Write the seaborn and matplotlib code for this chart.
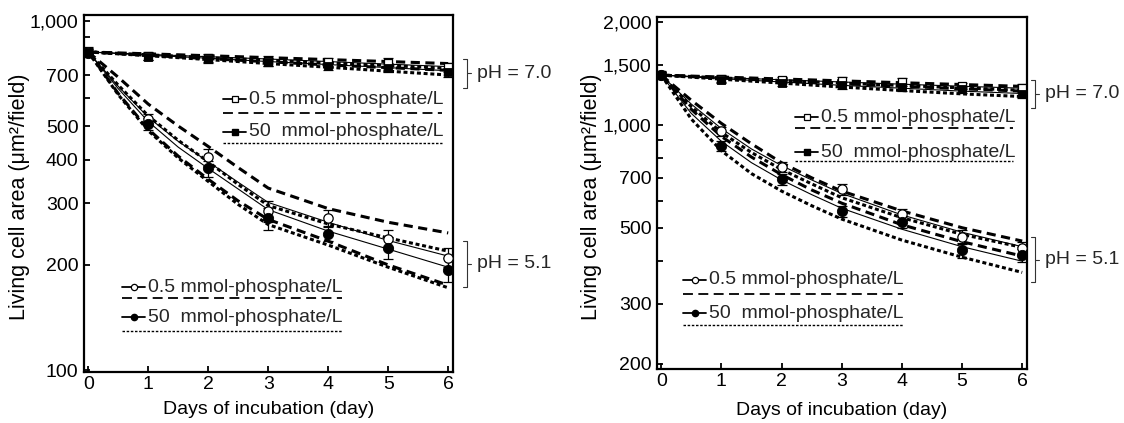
import numpy as np
import pandas as pd
import matplotlib
matplotlib.use("Agg")
import matplotlib.pyplot as plt
from matplotlib.lines import Line2D
from matplotlib.ticker import FixedLocator, FixedFormatter, NullLocator
import seaborn as sns

sns.set_theme(style="white")
plt.rcParams['font.family'] = ['Liberation Sans', 'DejaVu Sans']

# ---------------- data ----------------
days = [0, 1, 2, 3, 4, 5, 6]
fit_days = [0, 0.5, 1, 1.5, 2, 2.5, 3, 4, 5, 6]

# Left panel, pH 7.0 (squares)
L7_open = [815, 795, 782, 770, 762, 757, 738]
L7_open_err = [25, 20, 20, 25, 22, 25, 22]
L7_filled = [812, 790, 778, 765, 745, 735, 712]
L7_filled_err = [20, 18, 18, 20, 22, 22, 20]
L7_open_fit = [815, 802, 790, 778, 765, 752, 740]
L7_filled_fit = [815, 798, 782, 765, 750, 735, 720]
L7_dash_hi = [815, 805, 795, 785, 775, 765, 755]
L7_dash_lo = [815, 797, 780, 764, 748, 735, 722]
L7_dot_hi = [815, 800, 785, 772, 758, 745, 732]
L7_dot_lo = [815, 795, 775, 755, 737, 718, 700]

# Left panel, pH 5.1 (circles)
L5_open = [815, 522, 407, 285, 272, 238, 210]
L5_open_err = [20, 18, 22, 20, 15, 14, 13]
L5_filled = [812, 508, 378, 272, 246, 224, 194]
L5_filled_err = [20, 20, 20, 20, 12, 16, 15]
L5_open_fit = [815, 650, 530, 452, 395, 345, 302, 265, 235, 212]
L5_filled_fit = [815, 640, 515, 435, 378, 330, 288, 250, 222, 197]
L5_dash_hi = [815, 690, 578, 500, 437, 380, 332, 290, 265, 247]
L5_dash_lo = [815, 620, 490, 410, 352, 305, 270, 234, 200, 175]
L5_dot_hi = [815, 655, 535, 455, 395, 340, 296, 262, 239, 219]
L5_dot_lo = [815, 615, 485, 405, 347, 298, 261, 228, 197, 172]

# Right panel, pH 7.0 (squares)
R7_open = [1398, 1365, 1352, 1343, 1334, 1299, 1280]
R7_open_err = [35, 30, 30, 35, 35, 30, 35]
R7_filled = [1398, 1355, 1325, 1307, 1290, 1272, 1230]
R7_filled_err = [30, 30, 30, 30, 30, 30, 30]
R7_open_fit = [1398, 1375, 1355, 1335, 1315, 1297, 1280]
R7_filled_fit = [1398, 1365, 1335, 1305, 1280, 1255, 1235]
R7_dash_hi = [1398, 1380, 1362, 1345, 1328, 1312, 1296]
R7_dash_lo = [1398, 1370, 1345, 1320, 1297, 1275, 1255]
R7_dot_hi = [1398, 1372, 1348, 1325, 1303, 1283, 1262]
R7_dot_lo = [1398, 1360, 1325, 1290, 1260, 1232, 1210]

# Right panel, pH 5.1 (circles)
R5_open = [1398, 958, 751, 648, 547, 471, 435]
R5_open_err = [30, 30, 25, 25, 20, 20, 18]
R5_filled = [1398, 866, 693, 558, 518, 429, 415]
R5_filled_err = [30, 30, 25, 22, 20, 20, 18]
R5_open_fit = [1398, 1150, 975, 850, 760, 690, 630, 545, 485, 440]
R5_filled_fit = [1398, 1080, 895, 775, 690, 625, 570, 495, 440, 399]
R5_dash_hi = [1398, 1180, 1010, 880, 775, 700, 640, 560, 500, 457]
R5_dash_lo = [1398, 1110, 925, 805, 715, 645, 590, 510, 455, 413]
R5_dot_hi = [1398, 1130, 950, 830, 740, 672, 612, 535, 478, 438]
R5_dot_lo = [1398, 1040, 840, 720, 640, 580, 530, 460, 410, 370]

L_ticks = [100, 200, 300, 400, 500, 600, 700, 800, 900, 1000]
L_labels = ['100', '200', '300', '400', '500', '', '700', '', '', '1,000']
R_ticks = [200, 300, 400, 500, 600, 700, 800, 900, 1000, 1500, 2000]
R_labels = ['200', '300', '', '500', '', '700', '', '', '1,000', '1,500', '2,000']
x_ticks = [0, 1, 2, 3, 4, 5, 6]

legend_text_05 = "0.5 mmol-phosphate/L"
legend_text_50 = "50  mmol-phosphate/L"
xlabel = "Days of incubation (day)"
ylabel = "Living cell area (\u03bcm\u00b2/field)"

# ---------------- figure ----------------
W, H = 1124, 423
fig = plt.figure(figsize=(W / 100, H / 100), dpi=100)

def fx(x):
    return x / W

def fy(y):
    return 1 - y / H

boxL = (84, 15, 453, 372)
boxR = (657, 17, 1027, 369)
axL = fig.add_axes([fx(boxL[0]), fy(boxL[3]), fx(boxL[2] - boxL[0]), (boxL[3] - boxL[1]) / H])
axR = fig.add_axes([fx(boxR[0]), fy(boxR[3]), fx(boxR[2] - boxR[0]), (boxR[3] - boxR[1]) / H])

FS = 14
YFS = 15.5
DASH = dict(color='black', lw=2.2, linestyle=(0, (3.0, 1.8)))
DOT = dict(color='black', lw=2.2, linestyle=(0, (1.3, 0.9)))
SOLID = dict(color='black', lw=0.8)


def draw_group(ax, xs_fit, open_fit, filled_fit, dhi, dlo, thi, tlo,
               open_v, open_e, filled_v, filled_e, marker, ms_open, ms_filled):
    for vals, kw in [(dhi, DASH), (dlo, DASH), (thi, DOT), (tlo, DOT),
                     (open_fit, SOLID), (filled_fit, SOLID)]:
        sns.lineplot(x=xs_fit, y=vals, ax=ax, estimator=None, sort=False, **kw)
    ax.errorbar(days, open_v, yerr=open_e, fmt='none', ecolor='black',
                elinewidth=0.9, capsize=3.5, capthick=0.9, zorder=4)
    ax.errorbar(days, filled_v, yerr=filled_e, fmt='none', ecolor='black',
                elinewidth=0.9, capsize=3.5, capthick=0.9, zorder=4)
    sns.scatterplot(x=days, y=open_v, ax=ax, marker=marker, s=ms_open,
                    facecolor='white', edgecolor='black', linewidth=0.9, zorder=5)
    sns.scatterplot(x=days, y=filled_v, ax=ax, marker=marker, s=ms_filled,
                    color='black', edgecolor='black', linewidth=0.6, zorder=6)


# left panel
draw_group(axL, days, L7_open_fit, L7_filled_fit, L7_dash_hi, L7_dash_lo, L7_dot_hi, L7_dot_lo,
           L7_open, L7_open_err, L7_filled, L7_filled_err, 's', 40, 40)
draw_group(axL, fit_days, L5_open_fit, L5_filled_fit, L5_dash_hi, L5_dash_lo, L5_dot_hi, L5_dot_lo,
           L5_open, L5_open_err, L5_filled, L5_filled_err, 'o', 45, 55)
# right panel
draw_group(axR, days, R7_open_fit, R7_filled_fit, R7_dash_hi, R7_dash_lo, R7_dot_hi, R7_dot_lo,
           R7_open, R7_open_err, R7_filled, R7_filled_err, 's', 40, 40)
draw_group(axR, fit_days, R5_open_fit, R5_filled_fit, R5_dash_hi, R5_dash_lo, R5_dot_hi, R5_dot_lo,
           R5_open, R5_open_err, R5_filled, R5_filled_err, 'o', 45, 55)


def style_axis(ax, box, ylim, ticks, labels, ylab_x, ylab_y, xlab_y):
    ax.set_yscale('log')
    ax.set_ylim(*ylim)
    ax.set_xlim(-0.07, 6.08)
    ax.yaxis.set_major_locator(FixedLocator(ticks))
    ax.yaxis.set_major_formatter(FixedFormatter(labels))
    ax.yaxis.set_minor_locator(NullLocator())
    ax.set_xticks(x_ticks)
    ax.set_xticklabels([str(t) for t in x_ticks])
    ax.tick_params(axis='both', direction='in', length=4.5, width=1.3,
                   labelsize=FS, colors='black', pad=4,
                   left=True, bottom=True, right=False, top=False)
    ax.tick_params(axis='x', pad=3)
    for sp in ax.spines.values():
        sp.set_visible(True)
        sp.set_color('black')
        sp.set_linewidth(1.6)
    ax.set_xlabel(xlabel, fontsize=FS, color='black', va='center')
    ax.set_ylabel(ylabel, fontsize=YFS, color='black', va='center')
    x0, y0, x1, y1 = box
    ax.yaxis.set_label_coords((ylab_x - x0) / (x1 - x0), (y1 - ylab_y) / (y1 - y0))
    ax.xaxis.set_label_coords(0.5, (y1 - xlab_y) / (y1 - y0))
    ax.grid(False)
    ax.set_facecolor('white')


style_axis(axL, boxL, (98.7, 1040), L_ticks, L_labels, 20, 197, 409)
style_axis(axR, boxR, (193, 2068), R_ticks, R_labels, 592, 197, 410)


# legends drawn in pixel coordinates
def line_px(xs, ys, **kw):
    fig.add_artist(Line2D([fx(x) for x in xs], [fy(y) for y in ys],
                          transform=fig.transFigure, **kw))


def legend_block(x0, x1, y1, yd1, y2, yd2, marker, ms):
    # row 1: open marker
    line_px([x0, x0 + 23], [y1, y1], color='black', lw=1.3)
    line_px([x0 + 11.5], [y1], marker=marker, markersize=ms, markerfacecolor='white',
            markeredgecolor='black', markeredgewidth=0.9, linestyle='none')
    fig.text(fx(x0 + 26), fy(y1), legend_text_05, fontsize=FS, va='center', ha='left')
    line_px([x0, x1], [yd1, yd1], color='black', lw=1.3, linestyle=(0, (5.5, 3)))
    # row 2: filled marker
    line_px([x0, x0 + 23], [y2, y2], color='black', lw=1.3)
    line_px([x0 + 11.5], [y2], marker=marker, markersize=ms, markerfacecolor='black',
            markeredgecolor='black', linestyle='none')
    fig.text(fx(x0 + 26), fy(y2), legend_text_50, fontsize=FS, va='center', ha='left')
    line_px([x0, x1], [yd2, yd2], color='black', lw=1.0, linestyle=(0, (1.8, 1.2)))


legend_block(223, 442, 99, 113, 132, 143, 's', 4.5)
legend_block(122, 342, 287, 298, 317, 331, 'o', 4.5)
legend_block(795, 1013, 117, 128, 152, 161, 's', 4.5)
legend_block(683, 903, 280, 294, 313, 325, 'o', 4.5)


def bracket(x, ytop, ybot, text, ytext=None):
    kw = dict(color='#333333', lw=0.8)
    line_px([x - 4, x, x, x - 4], [ytop, ytop, ybot, ybot], **kw)
    ym = (ytop + ybot) / 2
    line_px([x, x + 4], [ym, ym], **kw)
    fig.text(fx(x + 10), fy(ytext if ytext else ym), text, fontsize=FS, va='center', ha='left')


bracket(467, 59, 88, "pH = 7.0")
bracket(467, 241, 287, "pH = 5.1", 263)
bracket(1035, 80, 108, "pH = 7.0")
bracket(1035, 237, 282, "pH = 5.1")

fig.savefig("out.png", dpi=100, facecolor='white')
